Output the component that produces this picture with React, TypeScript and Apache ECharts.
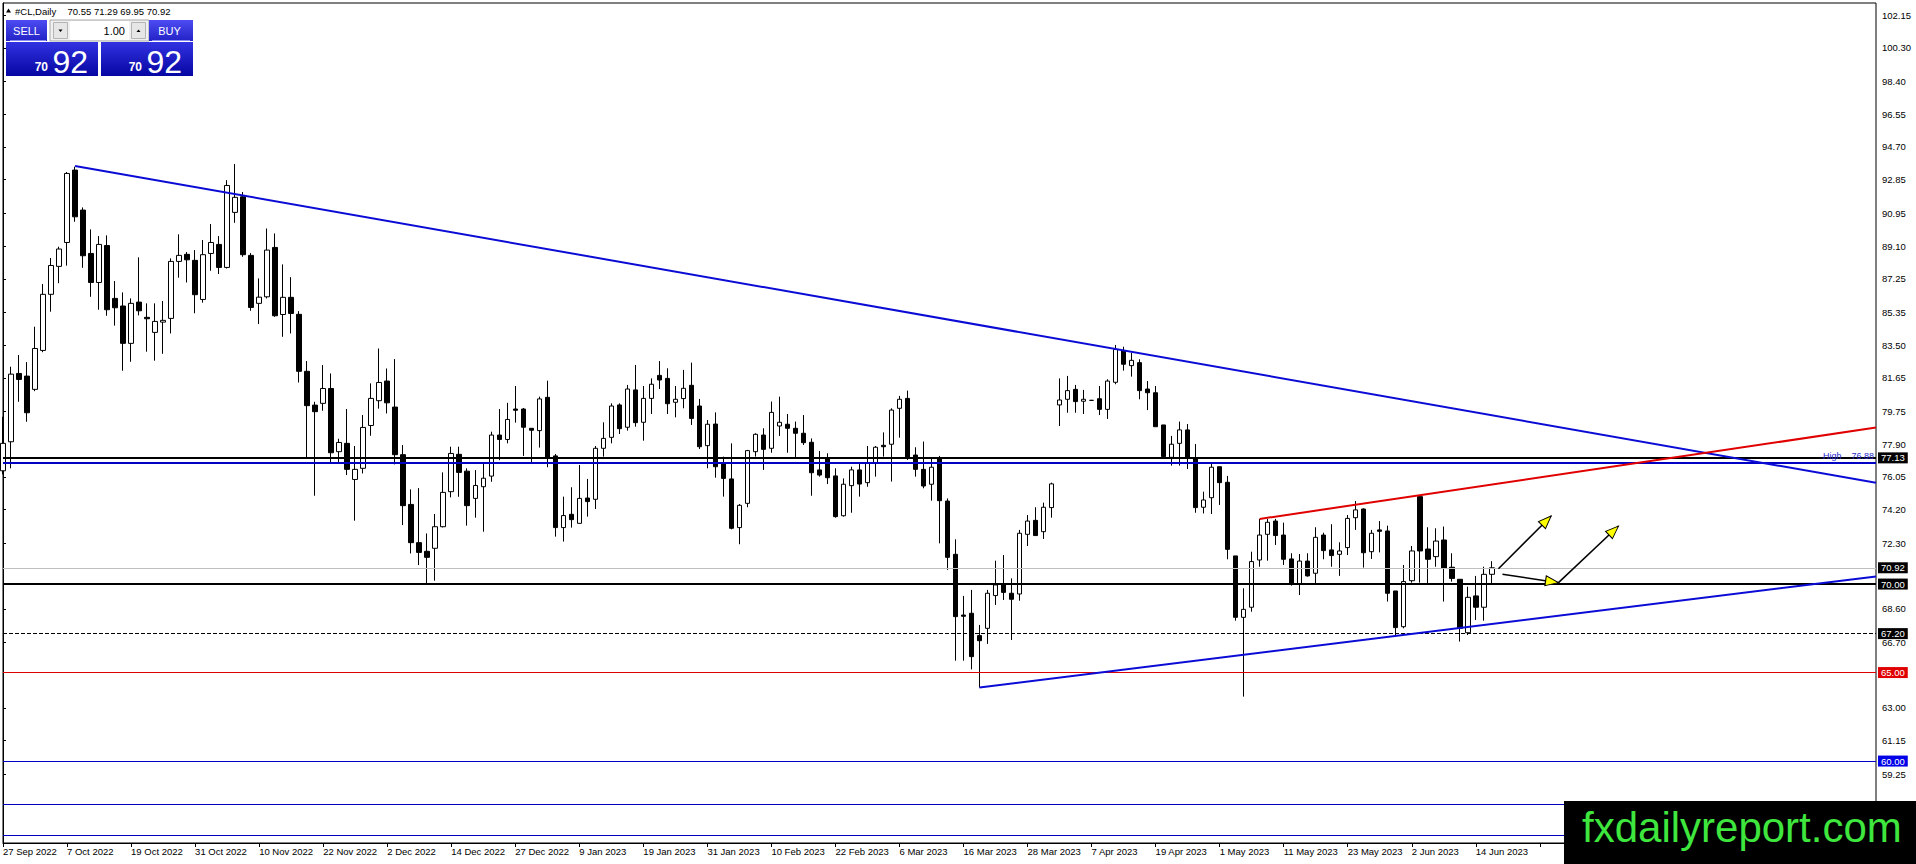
import React, { useEffect, useRef } from 'react';
import * as echarts from 'echarts';

const FONT = '"Liberation Sans", Arial, sans-serif';
const symbolName = '#CL,Daily';
const lotSize = '1.00';

// trading days shown on the chart, grouped by month
const tradingDays: [string, number[]][] = [
  ['Sep 2022', [27, 28, 29, 30]],
  ['Oct 2022', [3, 4, 5, 6, 7, 10, 11, 12, 13, 14, 17, 18, 19, 20, 21, 24, 25, 26, 27, 28, 31]],
  ['Nov 2022', [1, 2, 3, 4, 7, 8, 9, 10, 11, 14, 15, 16, 17, 18, 21, 22, 23, 24, 25, 28, 29, 30]],
  ['Dec 2022', [1, 2, 5, 6, 7, 8, 9, 12, 13, 14, 15, 16, 19, 20, 21, 22, 23, 27, 28, 29, 30]],
  ['Jan 2023', [3, 4, 5, 6, 9, 10, 11, 12, 13, 16, 17, 18, 19, 20, 23, 24, 25, 26, 27, 30, 31]],
  ['Feb 2023', [1, 2, 3, 6, 7, 8, 9, 10, 13, 14, 15, 16, 17, 20, 21, 22, 23, 24, 27, 28]],
  ['Mar 2023', [1, 2, 3, 6, 7, 8, 9, 10, 13, 14, 15, 16, 17, 20, 21, 22, 23, 24, 27, 28, 29, 30, 31]],
  ['Apr 2023', [3, 4, 5, 6, 7, 10, 11, 12, 13, 14, 17, 18, 19, 20, 21, 24, 25, 26, 27, 28]],
  ['May 2023', [1, 2, 3, 4, 5, 8, 9, 10, 11, 12, 15, 16, 17, 18, 19, 22, 23, 24, 25, 26, 29, 30, 31]],
  ['Jun 2023', [1, 2, 5, 6, 7, 8, 9, 12, 13, 14, 15, 16]],
];

// [open, high, low, close] per trading day
const ohlc: [number, number, number, number][] = [
  [76.40, 79.45, 76.20, 77.95], [78.04, 82.28, 76.54, 81.86], [81.90, 82.94, 80.30, 81.56], [81.75, 82.54, 79.17, 79.68],
  [81.00, 84.54, 80.90, 83.31], [83.20, 86.95, 83.10, 86.37], [86.37, 88.42, 85.39, 88.00], [87.95, 89.06, 87.00, 88.93],
  [89.30, 93.28, 87.99, 93.20], [93.39, 93.58, 90.47, 90.75], [91.13, 91.28, 87.87, 88.55], [88.68, 90.04, 86.23, 87.04],
  [87.04, 89.66, 85.50, 89.19], [89.13, 89.70, 85.16, 85.50], [86.14, 87.12, 84.60, 85.61], [85.71, 86.48, 82.05, 83.60],
  [83.60, 86.14, 82.56, 85.86], [85.93, 88.46, 85.18, 85.44], [85.07, 85.86, 83.13, 84.99], [84.22, 85.86, 82.62, 84.84],
  [84.80, 85.99, 83.01, 84.90], [85.01, 88.40, 84.16, 88.23], [88.23, 89.76, 87.31, 88.57], [88.63, 88.76, 87.04, 88.32],
  [88.29, 88.87, 85.30, 86.35], [86.08, 89.44, 85.90, 88.61], [88.68, 90.34, 87.70, 89.30], [89.19, 89.66, 87.52, 87.89],
  [87.89, 92.82, 87.83, 92.52], [91.00, 93.73, 90.41, 91.85], [91.88, 92.15, 88.49, 88.61], [88.57, 88.70, 85.44, 85.63],
  [85.86, 87.27, 84.69, 86.21], [86.23, 90.09, 86.14, 88.87], [89.02, 89.81, 85.10, 85.16], [85.23, 88.06, 83.97, 86.20],
  [86.20, 87.34, 84.16, 85.29], [85.24, 85.42, 81.39, 82.02], [82.02, 82.60, 77.10, 80.08], [80.11, 80.30, 74.99, 79.74],
  [80.21, 82.37, 79.79, 81.05], [81.05, 81.90, 76.82, 77.42], [77.48, 78.21, 76.90, 78.00], [77.95, 79.89, 76.16, 76.48],
  [75.91, 77.80, 73.58, 76.48], [76.54, 79.55, 76.25, 78.85], [78.96, 81.34, 78.38, 80.49], [80.36, 83.31, 79.91, 81.39],
  [81.47, 82.18, 79.64, 80.24], [80.00, 82.71, 76.76, 77.31], [77.31, 77.85, 73.33, 74.43], [74.50, 75.35, 71.73, 72.34],
  [72.34, 75.42, 71.07, 71.79], [71.85, 72.86, 70.04, 71.51], [72.02, 73.96, 70.19, 73.24], [73.24, 76.31, 73.20, 75.18],
  [75.22, 77.76, 74.90, 77.38], [77.33, 77.76, 74.93, 76.31], [76.38, 76.54, 73.30, 74.43], [74.84, 76.44, 73.75, 75.57],
  [75.50, 76.78, 72.96, 75.98], [76.10, 78.61, 75.78, 78.42], [78.42, 79.89, 77.00, 78.17], [78.17, 80.24, 77.95, 79.30],
  [79.89, 81.19, 79.12, 79.82], [79.89, 79.95, 77.24, 78.86], [78.80, 78.80, 76.78, 78.69], [78.67, 80.59, 77.71, 80.46],
  [80.55, 81.49, 76.60, 77.10], [77.24, 77.35, 72.68, 73.19], [73.19, 74.94, 72.40, 73.87], [73.94, 75.47, 73.19, 73.64],
  [73.43, 76.73, 73.43, 74.84], [74.86, 75.94, 73.81, 74.66], [74.79, 77.80, 74.24, 77.67], [77.67, 79.14, 77.20, 78.23],
  [78.29, 80.21, 77.95, 80.06], [80.12, 80.21, 78.48, 78.78], [78.86, 81.25, 78.67, 81.02], [80.97, 82.38, 78.89, 79.12],
  [79.14, 81.19, 78.10, 80.49], [80.49, 81.62, 79.61, 81.29], [81.79, 82.60, 81.02, 81.53], [81.62, 82.19, 79.61, 80.19],
  [80.27, 81.19, 79.42, 80.44], [80.48, 82.10, 79.93, 81.06], [81.23, 82.51, 78.99, 79.36], [80.06, 80.46, 77.63, 77.76],
  [77.82, 79.27, 76.54, 79.03], [79.04, 79.70, 76.01, 76.63], [76.78, 77.20, 74.94, 75.97], [75.94, 77.95, 73.09, 73.15],
  [73.19, 74.52, 72.25, 74.45], [74.56, 77.58, 74.34, 77.54], [77.48, 78.52, 77.20, 78.46], [78.42, 78.80, 76.45, 77.61],
  [77.67, 80.31, 77.42, 79.70], [78.93, 80.59, 78.37, 79.14], [79.03, 79.61, 77.42, 78.80], [78.80, 79.18, 77.16, 78.52],
  [78.52, 79.55, 77.86, 77.99], [78.01, 78.23, 74.99, 76.29], [76.45, 77.52, 76.07, 76.16], [77.10, 77.39, 75.65, 76.01],
  [76.11, 76.54, 73.75, 73.81], [73.86, 75.97, 73.81, 75.64], [75.56, 76.63, 74.03, 76.45], [76.45, 76.78, 74.94, 75.65],
  [75.73, 77.80, 75.50, 76.82], [76.86, 77.80, 76.07, 77.73], [77.84, 78.57, 77.20, 77.76], [77.90, 79.93, 75.79, 79.83],
  [79.93, 80.63, 78.27, 80.44], [80.49, 80.93, 77.01, 77.10], [77.29, 77.73, 76.07, 76.48], [76.48, 78.05, 75.41, 75.54],
  [75.64, 77.10, 74.71, 76.60], [77.10, 77.24, 72.30, 74.71], [74.69, 74.84, 70.80, 71.51], [71.68, 72.53, 65.67, 68.16],
  [68.25, 69.33, 65.67, 68.18], [68.35, 69.67, 65.18, 65.90], [67.09, 67.69, 64.15, 66.80], [67.50, 69.67, 66.62, 69.48],
  [69.35, 71.32, 68.82, 69.95], [70.00, 71.64, 69.10, 69.53], [69.48, 70.32, 66.84, 69.14], [69.44, 73.06, 69.06, 72.87],
  [72.81, 73.90, 72.15, 73.56], [73.60, 74.34, 72.72, 72.74], [72.96, 74.60, 72.55, 74.34], [74.32, 75.73, 73.75, 75.66],
  [80.12, 81.62, 78.93, 80.40], [80.44, 81.76, 79.68, 80.93], [81.00, 81.25, 79.68, 80.31], [80.33, 80.97, 79.61, 80.44],
  [80.38, 80.40, 80.36, 80.38], [80.47, 81.19, 79.55, 79.87], [79.87, 81.57, 79.33, 81.47], [81.40, 83.51, 81.29, 83.26],
  [83.17, 83.41, 82.06, 82.42], [82.34, 83.07, 81.72, 82.64], [82.51, 82.70, 80.44, 80.93], [81.02, 81.47, 79.83, 80.81],
  [80.81, 81.19, 78.89, 78.89], [78.99, 78.99, 77.10, 77.20], [77.16, 78.37, 76.69, 77.90], [77.95, 79.18, 76.69, 78.71],
  [78.71, 79.04, 76.50, 77.16], [77.10, 77.91, 74.03, 74.32], [74.34, 75.22, 73.99, 74.75], [74.88, 76.86, 73.96, 76.60],
  [76.63, 76.63, 74.47, 75.73], [75.75, 76.11, 71.40, 71.96], [71.59, 71.59, 67.93, 68.12], [68.12, 69.76, 63.64, 68.57],
  [68.69, 71.83, 68.44, 71.27], [71.36, 73.68, 70.98, 72.77], [72.81, 73.68, 71.32, 73.49], [73.56, 73.68, 72.21, 72.74],
  [72.77, 73.47, 71.08, 71.40], [71.42, 71.74, 69.91, 70.00], [70.00, 71.70, 69.38, 71.30], [71.30, 71.74, 70.42, 70.46],
  [70.61, 73.21, 70.00, 72.64], [72.77, 72.90, 71.40, 71.89], [71.93, 73.38, 70.98, 71.61], [71.68, 72.36, 70.46, 71.87],
  [72.06, 73.90, 71.64, 73.71], [73.75, 74.69, 73.06, 74.19], [74.24, 74.28, 70.93, 71.77], [71.83, 73.06, 71.42, 72.87],
  [73.06, 73.56, 71.79, 72.98], [73.00, 73.30, 69.01, 69.48], [69.61, 69.61, 67.12, 67.54], [67.59, 71.08, 67.50, 70.14],
  [70.19, 72.15, 70.08, 71.87], [74.94, 75.03, 70.08, 71.87], [71.98, 73.21, 70.00, 71.40], [71.55, 73.15, 70.98, 72.43],
  [72.49, 73.25, 69.01, 70.89], [70.95, 71.74, 70.14, 70.32], [70.27, 70.27, 66.75, 67.50], [67.25, 69.85, 67.12, 69.25],
  [69.33, 70.46, 67.97, 68.69], [68.69, 70.98, 67.93, 70.55], [70.55, 71.29, 69.95, 70.92],
];

// empty bar slots to the right of the last candle (chart shift)
const futureSlots = 48;

// price scale labels on the right (those hidden under price tags / the logo are left out)
const yTickLabels = [
  '102.15', '100.30', '98.40', '96.55', '94.70', '92.85', '90.95', '89.10', '87.25', '85.35', '83.50', '81.65',
  '79.75', '77.90', '76.05', '74.20', '72.30', '68.60', '66.70', '63.00', '61.15', '59.25',
];
const yMin = 55.37;
const yMax = 102.83;

// horizontal levels
const blackLevels = [77.13, 70.0];
const highLevel = 76.88;
const dashedLevels = [67.2];
const redLevels = [65.0];
const blueLevels = [60.0];
const blueLevelsUnderLogo = [57.57, 55.78];

// trend lines: [bar index, price]
const upperTrend: [number, number][] = [[9, 93.62], [234, 75.72]];
const redChannel: [number, number][] = [[157, 73.68], [234, 78.84]];
const lowerTrend: [number, number][] = [[122, 64.15], [234, 70.43]];

// arrows: [start, tip] in [bar index, price]
const arrowPaths: [number, number][][] = [
  [[186.83, 70.87], [193.42, 73.85]],
  [[187.33, 70.55], [194.33, 70.08]],
  [[194.33, 70.08], [201.83, 73.28]],
];

const dateLabels = tradingDays.flatMap(([m, days]) => days.map((d) => `${d} ${m}`));
const categories = [...dateLabels, ...Array(futureSlots).fill('')];
const lastSlot = categories.length - 1;
const yTicks = yTickLabels.map(Number);
const last = ohlc[ohlc.length - 1];
const bid = last[3];

const BLUE = '#0b0bd6';
const NAVY = '#0000c4';
const RED = '#e00000';

const tag = (v: number, bg: string) => ({
  show: true,
  position: 'end',
  distance: 2,
  formatter: v.toFixed(2),
  backgroundColor: bg,
  color: '#fff',
  padding: [1, 3, 0, 3],
  fontSize: 9.5,
  fontFamily: FONT,
});

const markLineData = [
  ...blackLevels.map((v) => ({ yAxis: v, lineStyle: { color: '#000', width: 2, type: 'solid' }, label: tag(v, '#000') })),
  {
    yAxis: highLevel,
    lineStyle: { color: NAVY, width: 2, type: 'solid' },
    label: {
      show: true,
      position: 'insideEndTop',
      distance: 2,
      formatter: `High    ${highLevel.toFixed(2)}`,
      color: '#2a2ad0',
      fontSize: 9,
      fontFamily: FONT,
    },
  },
  { yAxis: bid, lineStyle: { color: '#c0c0c0', width: 1, type: 'solid' }, label: tag(bid, '#000') },
  ...dashedLevels.map((v) => ({ yAxis: v, lineStyle: { color: '#000', width: 1, type: [4, 2] }, label: tag(v, '#000') })),
  ...redLevels.map((v) => ({ yAxis: v, lineStyle: { color: RED, width: 1, type: 'solid' }, label: tag(v, RED) })),
  ...blueLevels.map((v) => ({ yAxis: v, lineStyle: { color: NAVY, width: 1, type: 'solid' }, label: tag(v, '#0000e8') })),
  ...blueLevelsUnderLogo.map((v) => ({ yAxis: v, lineStyle: { color: NAVY, width: 1, type: 'solid' }, label: { show: false } })),
];

const lineSeries = (data: [number, number][], color: string, width: number, z: number) => ({
  type: 'line',
  xAxisIndex: 1,
  yAxisIndex: 0,
  data,
  symbol: 'none',
  silent: true,
  lineStyle: { color, width },
  z,
});

const grad = (c1: string, c2: string) => ({
  type: 'linear',
  x: 0,
  y: 0,
  x2: 0,
  y2: 1,
  colorStops: [
    { offset: 0, color: c1 },
    { offset: 1, color: c2 },
  ],
});

const bidStr = bid.toFixed(2);
const bidBig = bidStr.slice(-2);
const bidSmall = bidStr.slice(0, bidStr.indexOf('.'));

const TOP = 100;
const widgetChildren: any[] = [
  { type: 'polygon', shape: { points: [[6, 12.5], [8.5, 8.5], [11, 12.5]] }, style: { fill: '#000' } },
  { type: 'text', x: 15, y: 11, style: { text: symbolName, fill: '#000', fontSize: 9.5, fontFamily: FONT, textVerticalAlign: 'middle' } },
  {
    type: 'text',
    x: 67.5,
    y: 11,
    style: { text: last.map((v) => v.toFixed(2)).join(' '), fill: '#000', fontSize: 9.5, fontFamily: FONT, textVerticalAlign: 'middle' },
  },
  // SELL button
  { type: 'rect', shape: { x: 6, y: 20, width: 41, height: 21 }, style: { fill: grad('#4c4cf2', '#2222c6') } },
  { type: 'line', shape: { x1: 10, y1: 40.5, x2: 46, y2: 40.5 }, style: { stroke: '#8a8af0', lineWidth: 1 } },
  { type: 'text', x: 26.5, y: 31, style: { text: 'SELL', fill: '#fff', fontSize: 11, fontFamily: FONT, textAlign: 'center', textVerticalAlign: 'middle' } },
  // lot spinner
  { type: 'rect', shape: { x: 50, y: 20, width: 99, height: 21 }, style: { fill: '#f0f0f0', stroke: '#a8a8a8', lineWidth: 1 } },
  { type: 'rect', shape: { x: 70, y: 21, width: 59, height: 19 }, style: { fill: '#fff' } },
  { type: 'rect', shape: { x: 53.5, y: 22.5, width: 14, height: 16 }, style: { fill: '#e6e6e6', stroke: '#b4b4b4', lineWidth: 1 } },
  { type: 'polygon', shape: { points: [[58.5, 29.5], [62.5, 29.5], [60.5, 32]] }, style: { fill: '#000' } },
  { type: 'rect', shape: { x: 131.5, y: 22.5, width: 14, height: 16 }, style: { fill: '#e6e6e6', stroke: '#b4b4b4', lineWidth: 1 } },
  { type: 'polygon', shape: { points: [[136.5, 32], [140.5, 32], [138.5, 29.5]] }, style: { fill: '#000' } },
  { type: 'text', x: 125, y: 31, style: { text: lotSize, fill: '#000', fontSize: 11, fontFamily: FONT, textAlign: 'right', textVerticalAlign: 'middle' } },
  // BUY button
  { type: 'rect', shape: { x: 149, y: 20, width: 44, height: 21 }, style: { fill: grad('#4c4cf2', '#2222c6') } },
  { type: 'line', shape: { x1: 152, y1: 40.5, x2: 190, y2: 40.5 }, style: { stroke: '#8a8af0', lineWidth: 1 } },
  { type: 'text', x: 169.5, y: 31, style: { text: 'BUY', fill: '#fff', fontSize: 11, fontFamily: FONT, textAlign: 'center', textVerticalAlign: 'middle' } },
  // price boxes
  { type: 'rect', shape: { x: 6, y: 42, width: 92, height: 34 }, style: { fill: grad('#3232e2', '#0606a2') } },
  { type: 'rect', shape: { x: 101, y: 42, width: 92, height: 34 }, style: { fill: grad('#3232e2', '#0606a2') } },
  { type: 'text', x: 48, y: 66.5, style: { text: bidSmall, fill: '#fff', fontSize: 12, fontWeight: 'bold', fontFamily: FONT, textAlign: 'right', textVerticalAlign: 'middle' } },
  { type: 'text', x: 52.5, y: 61.5, style: { text: bidBig, fill: '#fff', fontSize: 32, fontFamily: FONT, textVerticalAlign: 'middle' } },
  { type: 'text', x: 142, y: 66.5, style: { text: bidSmall, fill: '#fff', fontSize: 12, fontWeight: 'bold', fontFamily: FONT, textAlign: 'right', textVerticalAlign: 'middle' } },
  { type: 'text', x: 146.5, y: 61.5, style: { text: bidBig, fill: '#fff', fontSize: 32, fontFamily: FONT, textVerticalAlign: 'middle' } },
];

const watermarkChildren: any[] = [
  { type: 'rect', shape: { x: 1564, y: 801, width: 352, height: 63 }, style: { fill: '#000' } },
  {
    type: 'text',
    x: 1582,
    y: 827,
    style: { text: 'fxdailyreport.com', fill: '#3ee63e', fontSize: 42, fontFamily: FONT, textVerticalAlign: 'middle' },
  },
];

const graphics = [...widgetChildren, ...watermarkChildren].map((el) => ({ ...el, z: TOP }));

export default function App() {
  const ref = useRef<HTMLDivElement>(null);

  useEffect(() => {
    if (!ref.current) return;
    const chart = echarts.init(ref.current, null, { renderer: 'svg' });
    const option: any = {
      animation: false,
      backgroundColor: '#fff',
      grid: { left: 3, right: 40, top: 3, bottom: 21, show: true, borderColor: '#000', borderWidth: 1, backgroundColor: '#fff' },
      xAxis: [
        {
          type: 'category',
          data: categories,
          boundaryGap: false,
          axisLine: { lineStyle: { color: '#000', width: 1 } },
          axisTick: { interval: 7, length: 4, lineStyle: { color: '#000' } },
          axisLabel: { interval: 7, align: 'left', margin: 3, color: '#000', fontSize: 9.5, fontFamily: FONT },
          splitLine: { show: false },
        },
        { type: 'value', min: 0, max: lastSlot, show: false },
      ],
      yAxis: {
        type: 'value',
        position: 'right',
        min: yMin,
        max: yMax,
        axisLine: { show: true, lineStyle: { color: '#000' } },
        axisTick: { show: true, length: 3, customValues: yTicks, lineStyle: { color: '#000' } },
        axisLabel: {
          customValues: yTicks,
          formatter: (v: number) => v.toFixed(2),
          margin: 6,
          color: '#000',
          fontSize: 9.5,
          fontFamily: FONT,
        },
        splitLine: { show: false },
      },
      graphic: graphics,
      series: [
        {
          type: 'candlestick',
          xAxisIndex: 0,
          data: ohlc.map(([o, h, l, c]) => [o, c, l, h]),
          barWidth: 5,
          silent: true,
          clip: true,
          itemStyle: { color: '#fff', color0: '#000', borderColor: '#000', borderColor0: '#000', borderWidth: 1 },
          markLine: { silent: true, symbol: ['none', 'none'], z: 5, data: markLineData },
          z: 2,
        },
        lineSeries(upperTrend, BLUE, 2, 6),
        lineSeries(redChannel, RED, 2, 6),
        lineSeries(lowerTrend, BLUE, 2, 6),
        ...arrowPaths.map((p) => lineSeries(p as [number, number][], '#000', 1.5, 7)),
      ],
    };
    chart.setOption(option);

    // arrow heads, oriented along each arrow in screen space
    const headLen = 13;
    const heads = arrowPaths.map(([start, tip]) => {
      const a = chart.convertToPixel({ xAxisIndex: 1, yAxisIndex: 0 }, start) as number[];
      const b = chart.convertToPixel({ xAxisIndex: 1, yAxisIndex: 0 }, tip) as number[];
      const dx = b[0] - a[0];
      const dy = b[1] - a[1];
      const len = Math.hypot(dx, dy) || 1;
      const ang = (Math.atan2(-dy, dx) * 180) / Math.PI;
      return {
        value: tip,
        symbolRotate: ang - 90,
        symbolOffset: [(-headLen / 2) * (dx / len), (-headLen / 2) * (dy / len)],
      };
    });
    chart.setOption({
      series: [
        ...option.series,
        {
          type: 'scatter',
          xAxisIndex: 1,
          yAxisIndex: 0,
          data: heads,
          symbol: 'triangle',
          symbolSize: [10, headLen],
          silent: true,
          itemStyle: { color: '#ffff00', borderColor: '#000', borderWidth: 1, opacity: 1 },
          z: 8,
        },
      ],
    });

    return () => chart.dispose();
  }, []);

  return (
    <div
      ref={ref}
      style={{ position: 'fixed', left: 0, top: 0, width: 1916, height: 864, background: '#fff' }}
    />
  );
}
